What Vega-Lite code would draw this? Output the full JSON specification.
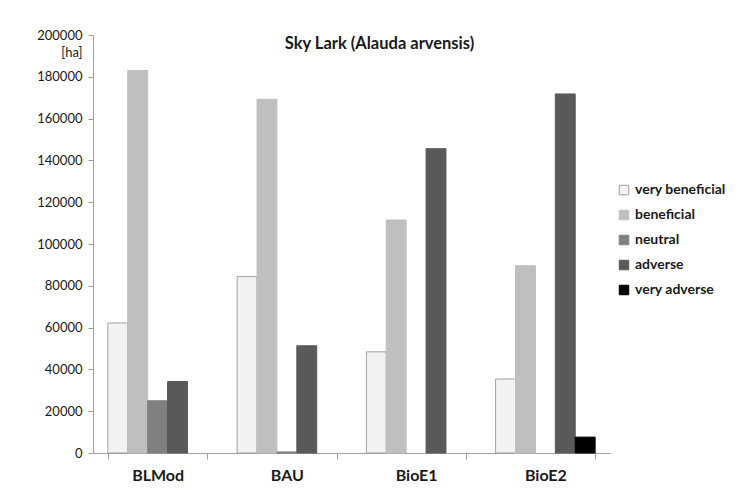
{
  "$schema": "https://vega.github.io/schema/vega-lite/v6.json",
  "autosize": "none",
  "width": 517,
  "height": 418,
  "padding": {"left": 93, "top": 35, "right": 144, "bottom": 37},
  "background": "white",
  "config": {"view": {"stroke": null}, "font": "Lato"},
  "title": {"text": "Sky Lark (Alauda arvensis)", "font": "Lato", "fontSize": 16.5, "fontWeight": "bold", "color": "#1a1a1a", "anchor": "middle", "dx": 28, "offset": -23},
  "data": {"values": [
    {"scenario": "BLMod", "effect": "very beneficial", "area": 62200},
    {"scenario": "BLMod", "effect": "beneficial", "area": 183000},
    {"scenario": "BLMod", "effect": "neutral", "area": 25000},
    {"scenario": "BLMod", "effect": "adverse", "area": 34200},
    {"scenario": "BLMod", "effect": "very adverse", "area": 0},
    {"scenario": "BAU", "effect": "very beneficial", "area": 84400},
    {"scenario": "BAU", "effect": "beneficial", "area": 169200},
    {"scenario": "BAU", "effect": "neutral", "area": 500},
    {"scenario": "BAU", "effect": "adverse", "area": 51300},
    {"scenario": "BAU", "effect": "very adverse", "area": 0},
    {"scenario": "BioE1", "effect": "very beneficial", "area": 48400},
    {"scenario": "BioE1", "effect": "beneficial", "area": 111500},
    {"scenario": "BioE1", "effect": "neutral", "area": 0},
    {"scenario": "BioE1", "effect": "adverse", "area": 145600},
    {"scenario": "BioE1", "effect": "very adverse", "area": 0},
    {"scenario": "BioE2", "effect": "very beneficial", "area": 35400},
    {"scenario": "BioE2", "effect": "beneficial", "area": 89600},
    {"scenario": "BioE2", "effect": "neutral", "area": 0},
    {"scenario": "BioE2", "effect": "adverse", "area": 171800},
    {"scenario": "BioE2", "effect": "very adverse", "area": 7600}
  ]},
  "mark": {"type": "bar", "strokeWidth": 1},
  "encoding": {
    "x": {
      "field": "scenario", "type": "nominal",
      "sort": ["BLMod", "BAU", "BioE1", "BioE2"],
      "scale": {"paddingInner": 0.23, "paddingOuter": 0.115},
      "axis": {"title": null, "labelAngle": 0, "labelFont": "Lato", "labelFontSize": 16, "labelFontWeight": "bold", "labelColor": "#1a1a1a", "labelPadding": 8, "tickBand": "extent", "tickSize": 6, "tickColor": "#a0a0a0", "domainColor": "#a0a0a0", "grid": false}
    },
    "xOffset": {"field": "effect", "type": "nominal", "sort": ["very beneficial", "beneficial", "neutral", "adverse", "very adverse"]},
    "y": {
      "field": "area", "type": "quantitative",
      "scale": {"domain": [0, 200000], "nice": false},
      "axis": {"title": "[ha]", "titleAngle": 0, "titleAlign": "right", "titleBaseline": "middle", "titleX": -11, "titleY": 17, "titleFont": "Lato", "titleFontSize": 13, "titleFontWeight": "normal", "titleColor": "#1a1a1a", "values": [0, 20000, 40000, 60000, 80000, 100000, 120000, 140000, 160000, 180000, 200000], "format": "d", "labelFont": "Lato", "labelFontSize": 13, "labelColor": "#1a1a1a", "labelPadding": 6, "tickSize": 5, "tickColor": "#a0a0a0", "domainColor": "#a0a0a0", "grid": false}
    },
    "fill": {
      "field": "effect", "type": "nominal",
      "sort": ["very beneficial", "beneficial", "neutral", "adverse", "very adverse"],
      "scale": {"domain": ["very beneficial", "beneficial", "neutral", "adverse", "very adverse"], "range": ["#f2f2f2", "#bfbfbf", "#808080", "#595959", "#000000"]},
      "legend": {"title": null, "orient": "none", "legendX": 524, "legendY": 148, "labelFont": "Lato", "labelFontSize": 14, "labelFontWeight": "bold", "labelColor": "#1a1a1a", "symbolType": "square", "symbolSize": 90, "rowPadding": 11, "labelOffset": 4, "symbolStrokeWidth": 1}
    },
    "stroke": {
      "condition": {"test": "datum.area == 0", "value": null},
      "field": "effect", "type": "nominal",
      "scale": {"domain": ["very beneficial", "beneficial", "neutral", "adverse", "very adverse"], "range": ["#a0a0a0", "#bfbfbf", "#808080", "#595959", "#000000"]},
      "legend": null
    }
  }
}
